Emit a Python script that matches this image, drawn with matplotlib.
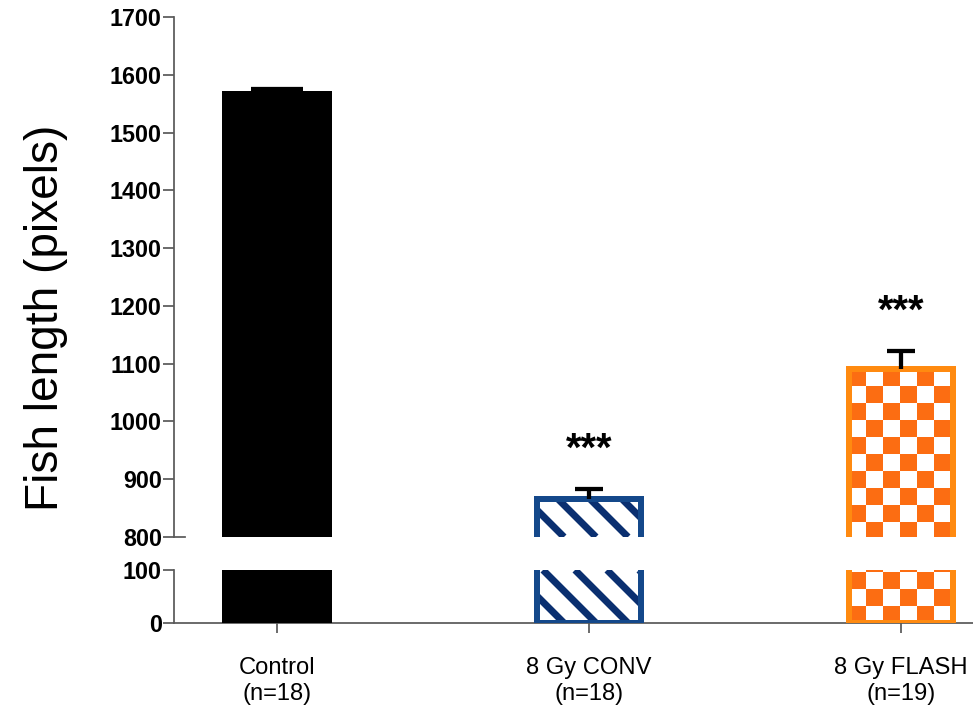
import numpy as np
import matplotlib
matplotlib.use("Agg")
import matplotlib.pyplot as plt
from matplotlib.colors import ListedColormap
from matplotlib.collections import LineCollection
from matplotlib.patches import Polygon
from matplotlib.transforms import blended_transform_factory, IdentityTransform

# data
groups = ["Control\n(n=18)", "8 Gy CONV\n(n=18)", "8 Gy FLASH\n(n=19)"]
means = [1567, 866, 1090]
sems = [8, 17, 32]
stars = ["", "***", "***"]
top_ticks = [800, 900, 1000, 1100, 1200, 1300, 1400, 1500, 1600, 1700]
low_ticks = [0, 100]

navy_edge = "#14488a"
navy = "#0a2f70"
orange_sq = "#fc6d12"
orange_edge = "#ff8a10"
spine_c = "#5a5a5a"

plt.rcParams["font.family"] = ["Liberation Sans", "DejaVu Sans"]

DPI = 180
W, H = 973, 714
fig = plt.figure(figsize=(W / DPI, H / DPI), dpi=DPI)

x = np.arange(len(groups))
xl = (-0.330, 2.231)
bw = 0.333

ax_top = fig.add_axes([174 / W, 1 - 537 / H, 799 / W, 520 / H])
ax_low = fig.add_axes([174 / W, 1 - 623 / H, 799 / W, 53 / H])

for ax, yl in ((ax_top, (800, 1700)), (ax_low, (0, 100))):
    ax.set_xlim(*xl)
    ax.set_ylim(*yl)

faces = ["black", "none", "none"]
edges = ["black", navy_edge, orange_edge]

cell_px = 17.0
stripe_px = 32.0


def visible(ax, xc, val):
    lo, hi = ax.get_ylim()
    return xc - bw / 2, xc + bw / 2, max(0, lo), min(val, hi)


def clip_poly(ax, xa, xb, y0, y1):
    poly = Polygon([(xa, y0), (xb, y0), (xb, y1), (xa, y1)], closed=True,
                   transform=ax.transData, visible=False)
    ax.add_patch(poly)
    return poly


def checker(ax, xc, val, anchor_top):
    xa, xb, y0, y1 = visible(ax, xc, val)
    p0 = ax.transData.transform((xa, y0))
    p1 = ax.transData.transform((xb, y1))
    wpx = int(round(p1[0] - p0[0]))
    hpx = int(round(p1[1] - p0[1]))
    c = np.arange(wpx) // cell_px
    r = np.arange(hpx) // cell_px if anchor_top else np.arange(hpx)[::-1] // cell_px
    arr = (np.add.outer(r, c) % 2 == 0).astype(float)
    im = ax.imshow(arr, extent=(xa, xb, y0, y1), origin="upper",
                   cmap=ListedColormap(["white", orange_sq]), vmin=0, vmax=1,
                   interpolation="nearest", aspect="auto", zorder=2)
    im.set_clip_path(clip_poly(ax, xa, xb, y0, y1))


def stripes(ax, xc, val):
    xa, xb, y0, y1 = visible(ax, xc, val)
    p0 = ax.transData.transform((xa, y0))
    p1 = ax.transData.transform((xb, y1))
    # lines x + y = c in display pixels (top-left to bottom-right)
    cs = np.arange(p0[0] + p0[1] - 5, p1[0] + p1[1] + stripe_px, stripe_px)
    segs = [[(c - p1[1], p1[1]), (c - p0[1], p0[1])] for c in cs]
    lc = LineCollection(segs, colors=navy, linewidths=2.8, transform=IdentityTransform(),
                        zorder=2)
    ax.add_collection(lc, autolim=False)
    lc.set_clip_path(clip_poly(ax, xa, xb, y0, y1))


for ax in (ax_top, ax_low):
    bars = ax.bar(x, means, width=bw, color=faces, edgecolor=edges, linewidth=2.4, zorder=3)
    stripes(ax, x[1], means[1])
    checker(ax, x[2], means[2], ax is ax_top)

ax_top.set_ylim(800, 1700)
ax_low.set_ylim(0, 100)

# error bars (upper only, "T" shape), control has a wider cap
caps = [10.5, 5.6, 5.6]
for i in range(len(means)):
    eb = ax_top.errorbar(x[i], means[i], yerr=[[0], [sems[i]]], fmt="none", ecolor="black",
                         elinewidth=1.7, capsize=caps[i], capthick=1.7, zorder=4)
    eb[1][0].set_visible(False)
    if stars[i]:
        ax_top.text(x[i], means[i] + sems[i] + 68, stars[i], ha="center", va="center",
                    fontsize=16, fontweight="bold", color="black")

# spines / ticks
for sp in ["top", "right", "bottom"]:
    ax_top.spines[sp].set_visible(False)
for sp in ["top", "right"]:
    ax_low.spines[sp].set_visible(False)
for ax in (ax_top, ax_low):
    for sp in ax.spines.values():
        sp.set_color(spine_c)
        sp.set_linewidth(0.7)
    ax.tick_params(axis="both", colors=spine_c, width=0.7, length=4.4, labelsize=9.3,
                   labelcolor="black", pad=0.5)

ax_top.set_yticks(top_ticks)
ax_top.set_yticklabels([str(t) for t in top_ticks], fontweight="bold")
ax_top.set_xticks([])
ax_low.set_yticks(low_ticks)
ax_low.set_yticklabels([str(t) for t in low_ticks], fontweight="bold")
ax_low.set_xticks(x)
ax_low.set_xticklabels(groups, fontsize=9.5, linespacing=1.25)
ax_low.tick_params(axis="x", length=4.0, pad=9.5)

# break mark at 800
tr = blended_transform_factory(ax_top.transAxes, ax_top.transData)
ax_top.plot([0, 11 / 799], [800, 800], color=spine_c, lw=0.7, transform=tr, clip_on=False)

fig.text(46 / W, 1 - 318 / H, "Fish length (pixels)", rotation=90, ha="center", va="center",
         fontsize=18.4)

fig.savefig("out.png", dpi=DPI)
